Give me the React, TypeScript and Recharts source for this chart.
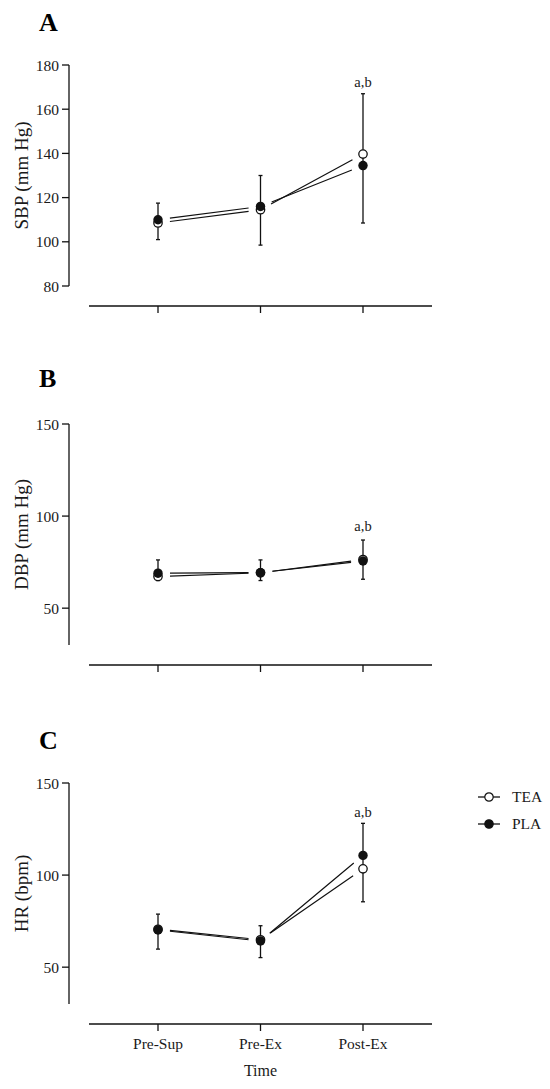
import React from 'react';
import { LineChart, Line, XAxis, YAxis, ErrorBar, ReferenceDot, Legend, Label } from 'recharts';

const FONT = '"Liberation Serif", "Times New Roman", serif';
const INK = '#111';
const TEXT = '#1a1a1a';

const timePoints = ['Pre-Sup', 'Pre-Ex', 'Post-Ex'];

// A: systolic blood pressure (mm Hg)
const sbpTea = [108.5, 114.5, 139.7];
const sbpPla = [110, 116, 134.5];
const sbpBarLow = [101, 98.5, 108.5];
const sbpBarHigh = [117.5, 130, 167];
const sbpTicks = [80, 100, 120, 140, 160, 180];

// B: diastolic blood pressure (mm Hg)
const dbpTea = [67.2, 69.2, 76.4];
const dbpPla = [69, 69.3, 75.6];
const dbpBarLow = [65, 65, 65.7];
const dbpBarHigh = [76.2, 76.2, 87];

// C: heart rate (bpm)
const hrTea = [70.6, 64.9, 103.4];
const hrPla = [70.2, 64.2, 110.7];
const hrBarLow = [59.8, 55.2, 85.5];
const hrBarHigh = [78.8, 72.5, 128.1];

const bpTicks = [50, 100, 150];

const legendSeries = [
  { name: 'TEA', fill: '#fff' },
  { name: 'PLA', fill: INK },
];

function buildRows(tea: number[], pla: number[], lo: number[], hi: number[]) {
  return timePoints.map((t, i) => ({
    t,
    tea: tea[i],
    pla: pla[i],
    err: [pla[i] - lo[i], hi[i] - pla[i]],
  }));
}

// d3-style curve: straight segments that stop short of each point (Prism "gap" look)
function gapCurve(gap: number) {
  return (context: any) => {
    let prev: [number, number] | null = null;
    return {
      areaStart() {},
      areaEnd() {},
      lineStart() {
        prev = null;
      },
      lineEnd() {},
      point(x: number, y: number) {
        if (prev) {
          const dx = x - prev[0];
          const dy = y - prev[1];
          const len = Math.hypot(dx, dy);
          if (len > 2 * gap) {
            const ux = dx / len;
            const uy = dy / len;
            context.moveTo(prev[0] + ux * gap, prev[1] + uy * gap);
            context.lineTo(x - ux * gap, y - uy * gap);
          }
        }
        prev = [x, y];
      },
    };
  };
}
const gapped = gapCurve(12);

function LegendBox() {
  return (
    <div style={{ fontFamily: FONT, fontSize: 15.5, color: TEXT }}>
      {legendSeries.map((s) => (
        <div key={s.name} style={{ display: 'flex', alignItems: 'center', height: 27.5 }}>
          <svg width={22} height={12}>
            <line x1={0} y1={6} x2={22} y2={6} stroke={INK} strokeWidth={1.3} />
            <circle cx={11} cy={6} r={4.2} fill={s.fill} stroke={INK} strokeWidth={1.2} />
          </svg>
          <span style={{ marginLeft: 12, fontFamily: FONT }}>{s.name}</span>
        </div>
      ))}
    </div>
  );
}

interface PanelProps {
  rows: ReturnType<typeof buildRows>;
  domain: [number, number];
  ticks: number[];
  yLabel: string;
  sigY: number;
  height: number;
  showTime?: boolean;
  showLegend?: boolean;
}

function Panel({ rows, domain, ticks, yLabel, sigY, height, showTime = false, showLegend = false }: PanelProps) {
  const axisStroke = { stroke: INK, strokeWidth: 1.3 };
  const tickFont = { fontSize: 15.5, fill: TEXT, fontFamily: FONT };
  return (
    <LineChart
      width={550}
      height={height}
      data={rows}
      style={{ fontFamily: FONT }}
      margin={{ top: 65, right: 118, bottom: showTime ? 13 : 23, left: 0 }}
    >
      <XAxis xAxisId="gap" dataKey="t" height={20} axisLine={false} tickLine={false} tick={false} />
      <XAxis
        xAxisId="main"
        dataKey="t"
        height={showTime ? 52 : 30}
        padding={{ left: 69, right: 69 }}
        axisLine={axisStroke}
        tickLine={axisStroke}
        tickSize={7}
        tickMargin={7}
        interval={0}
        tick={tickFont}
        tickFormatter={showTime ? undefined : () => ''}
      >
        {showTime && (
          <Label value="Time" position="insideBottom" offset={0} fontSize={16} fill={TEXT} fontFamily={FONT} />
        )}
      </XAxis>
      <YAxis yAxisId="gap" type="number" domain={domain} width={20} axisLine={false} tickLine={false} tick={false} />
      <YAxis
        yAxisId="main"
        type="number"
        domain={domain}
        ticks={ticks}
        width={69}
        axisLine={axisStroke}
        tickLine={axisStroke}
        tickSize={7}
        tickMargin={3}
        tick={tickFont}
      >
        <Label
          value={yLabel}
          angle={-90}
          position="insideLeft"
          offset={21}
          fontSize={19}
          fill={TEXT}
          fontFamily={FONT}
          style={{ textAnchor: 'middle' }}
        />
      </YAxis>

      <Line
        xAxisId="main"
        yAxisId="main"
        type={gapped}
        dataKey="tea"
        name="TEA"
        stroke={INK}
        strokeWidth={1.2}
        dot={{ r: 4.2, fill: '#fff', stroke: INK, strokeWidth: 1.3 }}
        isAnimationActive={false}
        legendType="none"
      />
      <Line
        xAxisId="main"
        yAxisId="main"
        type={gapped}
        dataKey="pla"
        name="PLA"
        stroke={INK}
        strokeWidth={1.2}
        dot={{ r: 4.7, fill: INK, stroke: 'none', strokeWidth: 0 }}
        isAnimationActive={false}
        legendType="none"
      >
        <ErrorBar dataKey="err" direction="y" width={2} stroke={INK} strokeWidth={1.3} />
      </Line>

      <ReferenceDot
        xAxisId="main"
        yAxisId="main"
        x="Post-Ex"
        y={sigY}
        r={0}
        stroke="none"
        label={{ value: 'a,b', position: 'center', fontSize: 14.5, fill: TEXT, fontFamily: FONT }}
      />
      {showLegend && (
        <Legend
          layout="vertical"
          align="center"
          verticalAlign="middle"
          wrapperStyle={{ left: 478, top: 65, width: 72 }}
          content={() => <LegendBox />}
        />
      )}
    </LineChart>
  );
}

const letterStyle: React.CSSProperties = {
  position: 'absolute',
  left: 39,
  fontFamily: FONT,
  fontWeight: 'bold',
  fontSize: 26,
  lineHeight: '26px',
  color: '#000',
};

export default function App() {
  return (
    <div style={{ position: 'absolute', left: 0, top: 0, width: 550, height: 1089, background: '#fff', fontFamily: FONT }}>
      <div style={{ position: 'absolute', left: 0, top: 0 }}>
        <Panel rows={buildRows(sbpTea, sbpPla, sbpBarLow, sbpBarHigh)} domain={[80, 180]} ticks={sbpTicks} yLabel="SBP (mm Hg)" sigY={172.3} height={359} />
      </div>
      <div style={{ position: 'absolute', left: 0, top: 359 }}>
        <Panel rows={buildRows(dbpTea, dbpPla, dbpBarLow, dbpBarHigh)} domain={[30, 150]} ticks={bpTicks} yLabel="DBP (mm Hg)" sigY={94.6} height={359} />
      </div>
      <div style={{ position: 'absolute', left: 0, top: 718 }}>
        <Panel rows={buildRows(hrTea, hrPla, hrBarLow, hrBarHigh)} domain={[30, 150]} ticks={bpTicks} yLabel="HR (bpm)" sigY={134.5} height={371} showTime showLegend />
      </div>
      <div style={{ ...letterStyle, top: 10 }}>A</div>
      <div style={{ ...letterStyle, top: 366 }}>B</div>
      <div style={{ ...letterStyle, top: 728 }}>C</div>
    </div>
  );
}
